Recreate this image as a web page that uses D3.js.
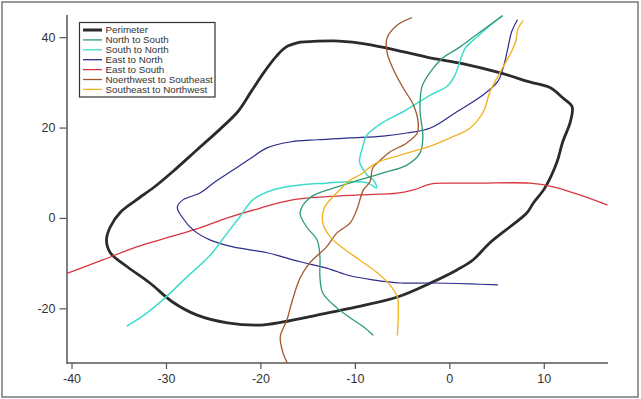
<!DOCTYPE html>
<html>
<head>
<meta charset="utf-8">
<script src="https://cdn.jsdelivr.net/npm/d3@7"></script>
<style>
  html, body { margin: 0; padding: 0; background: #fff; }
  svg { display: block; font-family: "Liberation Sans", Arial, sans-serif; }
</style>
</head>
<body>
<svg id="chart" width="641" height="399"></svg>
<script>
// ---- Data (x, y) ----
const seriesNames = ["Perimeter", "North to South", "South to North", "East to North",
  "East to South", "Noerthwest to Southeast", "Southeast to Northwest"];

const perimeter = [
  [-15.8,38.9],[-12.3,39.2],[-9.5,38.7],[-6.6,37.6],[-2.4,35.6],[1.5,34.1],[5.4,32.1],
  [8.5,30.1],[10.7,28.8],[12.0,26.6],[13.0,24.6],[12.8,21.2],[12.0,16.8],[11.4,12.4],
  [10.1,6.6],[8.9,3.3],[8.2,1.1],[6.4,-2.0],[4.3,-5.5],[2.5,-9.3],[0.8,-11.5],[-2.0,-14.4],
  [-5.5,-17.5],[-9.8,-19.7],[-14.0,-21.5],[-17.6,-23.0],[-20.0,-23.7],[-23.5,-23.2],
  [-26.7,-21.5],[-29.3,-18.6],[-31.7,-14.4],[-34.1,-10.8],[-35.9,-7.7],[-36.3,-4.9],
  [-35.9,-2.0],[-34.8,1.3],[-33.2,3.9],[-31.2,6.9],[-29.2,10.4],[-26.7,15.1],[-24.3,19.6],
  [-22.4,23.5],[-21.0,27.9],[-19.7,32.0],[-18.3,35.8],[-17.3,37.8],[-15.8,38.9]
];
const northToSouth = [
  [5.6,44.7],[3.3,41.2],[1.1,37.8],[-0.7,35.4],[-2.0,32.3],[-2.9,29.0],[-3.1,23.9],
  [-2.8,17.9],[-3.1,14.4],[-4.5,11.7],[-7.0,10.0],[-9.5,8.4],[-12.3,6.6],[-14.8,4.4],
  [-15.8,1.1],[-15.1,-2.0],[-14.0,-4.9],[-13.7,-8.6],[-13.7,-13.1],[-13.4,-16.6],
  [-11.9,-19.9],[-10.5,-22.1],[-9.1,-24.1],[-8.1,-25.9]
];
const southToNorth = [
  [-34.1,-23.9],[-32.0,-21.0],[-29.9,-17.3],[-27.8,-13.1],[-25.3,-8.2],[-23.5,-3.3],
  [-22.2,0.2],[-20.8,4.0],[-18.7,6.2],[-15.8,7.3],[-13.0,7.7],[-10.5,8.0],[-8.6,7.7],
  [-7.7,6.6],[-7.9,8.0],[-8.7,9.5],[-9.5,12.4],[-9.2,15.5],[-8.7,18.4],[-7.0,21.2],
  [-4.9,23.5],[-2.0,27.2],[-0.2,29.2],[0.6,31.6],[1.1,34.5],[1.7,37.6],[2.9,40.0],
  [4.6,43.1],[5.6,44.7]
];
const eastToNorth = [
  [5.1,-14.8],[2.2,-14.6],[-2.0,-14.4],[-5.2,-14.4],[-8.1,-13.7],[-10.5,-12.8],[-13.0,-11.1],
  [-15.8,-9.7],[-19.3,-7.7],[-22.9,-6.4],[-25.3,-4.9],[-27.1,-2.7],[-28.3,0.2],[-28.8,2.4],
  [-28.2,4.0],[-26.4,5.5],[-25.0,7.7],[-22.9,10.6],[-21.1,13.1],[-19.3,15.5],[-16.9,16.8],
  [-14.0,17.3],[-10.5,17.7],[-7.0,18.1],[-4.5,18.8],[-2.0,19.9],[0.8,23.5],[3.3,26.8],
  [5.1,30.1],[5.7,33.2],[6.2,37.6],[6.6,41.2],[7.2,43.8]
];
const eastToSouth = [
  [16.7,2.9],[13.8,5.1],[11.0,6.9],[8.5,7.7],[3.3,7.7],[-0.2,7.7],[-2.0,7.5],[-3.8,6.2],
  [-5.5,5.5],[-9.5,5.1],[-13.0,4.7],[-16.6,4.0],[-20.0,2.2],[-23.5,0.0],[-26.4,-2.2],
  [-29.6,-4.2],[-33.1,-6.4],[-36.7,-9.3],[-40.4,-12.2]
];
const northwestToSoutheast = [
  [-4.0,44.3],[-5.5,42.7],[-6.6,39.8],[-6.6,36.7],[-6.0,33.2],[-4.9,28.8],[-3.8,25.0],
  [-3.3,21.2],[-3.4,18.8],[-4.5,16.6],[-6.3,14.6],[-7.3,12.8],[-8.1,11.1],[-8.4,8.0],
  [-9.1,6.2],[-9.8,1.8],[-10.5,-1.1],[-11.9,-3.3],[-13.0,-6.4],[-14.8,-10.0],[-15.8,-13.3],
  [-16.6,-18.1],[-17.2,-22.6],[-17.9,-26.3],[-17.6,-29.9],[-17.2,-31.9]
];
const southeastToNorthwest = [
  [-5.5,-25.9],[-5.4,-21.0],[-5.5,-17.5],[-6.3,-14.8],[-7.7,-12.0],[-9.5,-9.3],[-11.3,-6.6],
  [-12.6,-4.2],[-13.4,-1.1],[-13.2,2.4],[-12.3,4.7],[-11.6,6.2],[-10.5,8.4],[-9.5,9.5],
  [-7.7,12.2],[-5.2,13.9],[-2.0,15.9],[0.1,17.7],[2.2,19.9],[3.6,23.5],[4.3,27.9],
  [5.4,32.3],[6.4,36.1],[7.0,38.9],[7.3,42.0],[7.8,43.6]
];

const xTicks = [-40, -30, -20, -10, 0, 10];
const yTicks = [-20, 0, 20, 40];

// ---- Styles ----
const seriesData = [perimeter, northToSouth, southToNorth, eastToNorth, eastToSouth,
  northwestToSoutheast, southeastToNorthwest];
const colors = ["#2b2b2b", "#2e9a78", "#3fdccc", "#2c2c8c", "#d8363f", "#a0562a", "#f0b423"];
const widths = [2.8, 1.3, 1.5, 1.2, 1.3, 1.3, 1.4];

const svg = d3.select("#chart");

// outer frame
svg.append("rect").attr("x", 2).attr("y", 2).attr("width", 636).attr("height", 395)
  .attr("fill", "none").attr("stroke", "#777").attr("stroke-width", 1.5);

const x = d3.scaleLinear().domain([-40.5, 16.8]).range([66.8, 608]);
const y = d3.scaleLinear().domain([-32.1, 45]).range([363, 14.6]);

const line = d3.line().x(d => x(d[0])).y(d => y(d[1])).curve(d3.curveCatmullRom.alpha(0.5));

const order = [0, 4, 3, 2, 1, 5, 6];
order.forEach(i => {
  svg.append("path").datum(seriesData[i])
    .attr("d", line)
    .attr("fill", "none")
    .attr("stroke", colors[i])
    .attr("stroke-width", widths[i])
    .attr("stroke-linejoin", "round")
    .attr("stroke-linecap", "round");
});

// axes
const fmt = d => String(d);
const xAxis = d3.axisBottom(x).tickValues(xTicks).tickFormat(fmt).tickSize(6).tickSizeOuter(0).tickPadding(5);
const gx = svg.append("g").attr("transform", "translate(0,363)").call(xAxis);
gx.select(".domain").attr("d", `M${x.range()[0] - 0.3},0H${x.range()[1]}`);

const yAxis = d3.axisLeft(y).tickValues(yTicks).tickFormat(fmt).tickSize(7).tickSizeOuter(0).tickPadding(4);
const gy = svg.append("g").attr("transform", "translate(66.5,0)").call(yAxis);

[gx, gy].forEach(g => {
  g.select(".domain").attr("stroke", "#555").attr("stroke-width", 1.5);
  g.selectAll(".tick line").attr("stroke", "#555").attr("stroke-width", 1.2);
  g.selectAll(".tick text").attr("fill", "#333")
    .style("font-family", "'Liberation Sans', Arial, sans-serif").style("font-size", "12.5px");
});

// legend
const lg = svg.append("g");
lg.append("rect").attr("x", 79.5).attr("y", 22.5).attr("width", 135.5).attr("height", 74.5)
  .attr("fill", "#fff").attr("stroke", "#333").attr("stroke-width", 1.2);
seriesNames.forEach((name, i) => {
  const yy = 30 + i * 9.9;
  lg.append("line").attr("x1", 83).attr("x2", 102).attr("y1", yy).attr("y2", yy)
    .attr("stroke", colors[i]).attr("stroke-width", i === 0 ? 3 : 1.3);
  lg.append("text").attr("x", 105.5).attr("y", yy).attr("dy", "0.35em")
    .attr("fill", "#333").style("font-size", "9.8px").text(name);
});
</script>
</body>
</html>
